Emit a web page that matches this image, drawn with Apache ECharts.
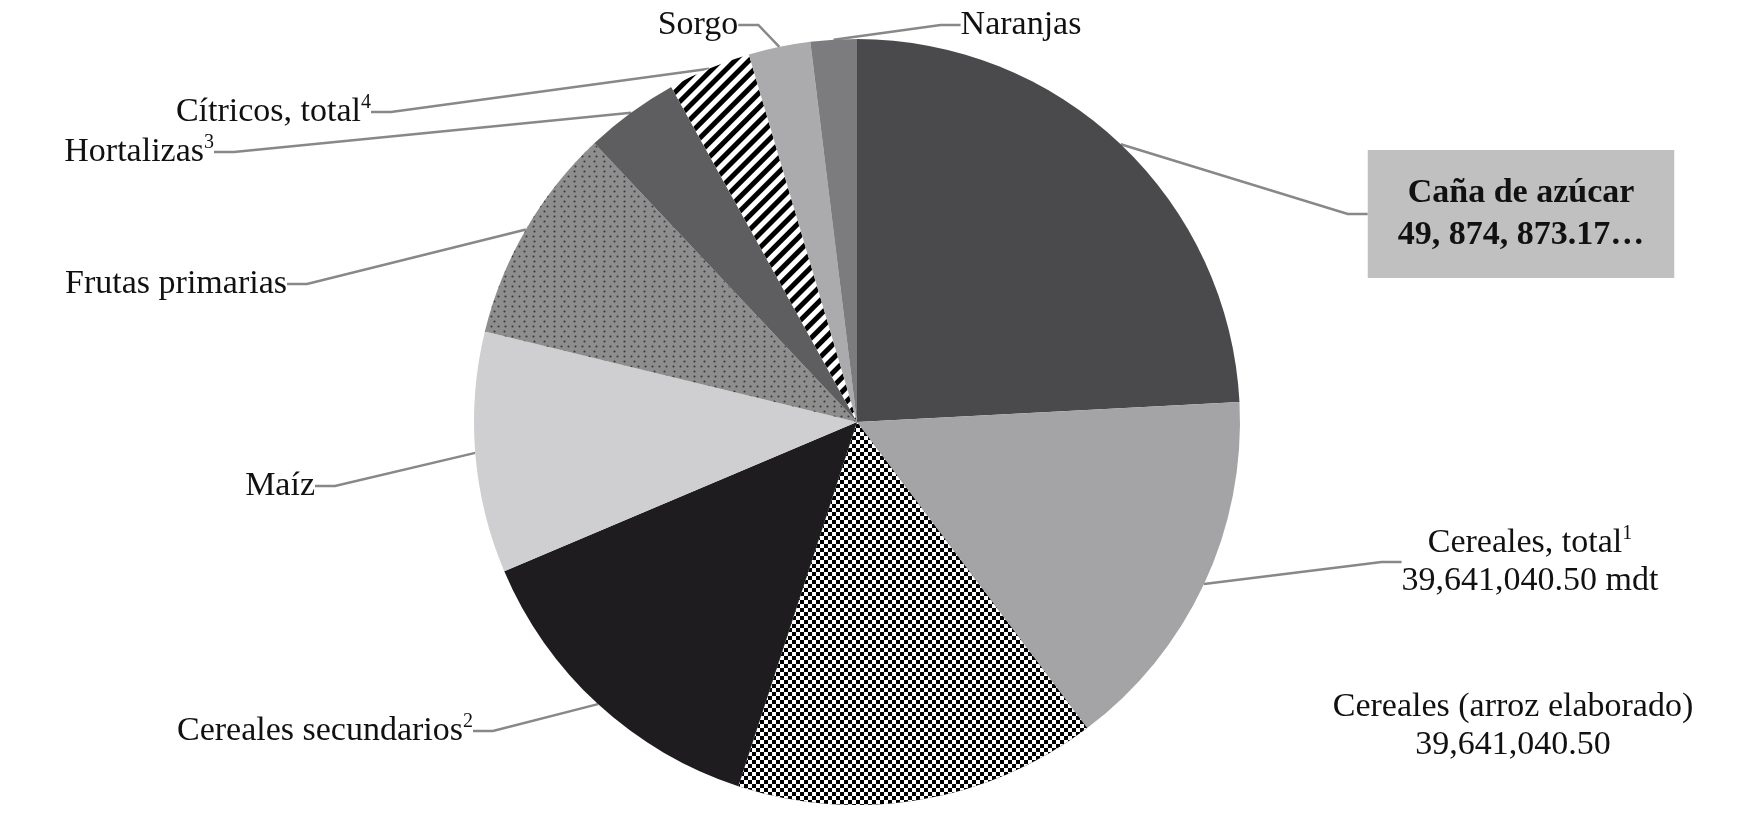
<!DOCTYPE html>
<html><head><meta charset="utf-8">
<script src="https://cdn.jsdelivr.net/npm/echarts@6/dist/echarts.min.js"></script>
<style>html,body{margin:0;background:#fff}#c{width:1764px;height:822px}</style>
</head><body><div id="c"></div>
<script>
const categories = ['Caña de azúcar','Cereales, total','Cereales (arroz elaborado)','Cereales secundarios','Maíz','Frutas primarias','Hortalizas','Cítricos, total','Sorgo','Naranjas'];
const labelTexts = ['{b|Caña de azúcar}\n{b|49, 874, 873.17…}','Cereales, total{s|1}\n39,641,040.50 mdt','Cereales (arroz elaborado)\n39,641,040.50','Cereales secundarios{s|2}','Maíz','Frutas primarias','Hortalizas{s|3}','Cítricos, total{s|4}','Sorgo','Naranjas'];
const values = [87, 56, 55, 49, 36.6, 33, 14.3, 12.6, 9.4, 7];
const colors = ['#4a494b','#a4a4a6','#000000','#1e1c1e','#cfcfd1','#8e8e8e','#5e5e60','#ffffff','#ababad','#7c7c7e'];
const labelPos = [[1521,214,'center'],[1530,562,'center'],[1513,726,'center'],[473,731,'right'],[315,486,'right'],[287,284,'right'],[214,152,'right'],[371,112,'right'],[698,25,'center'],[1021,25,'center']];
const decals = {
  2:{symbol:'rect',symbolSize:1,color:'#ffffff',dashArrayX:[[4,4],[0,4,4,0]],dashArrayY:[4,0]},
  5:{symbol:'circle',symbolSize:0.7,color:'#3a3a3a',dashArrayX:[[3,4],[0,3,3,4]],dashArrayY:[3,2]},
  7:{symbol:'rect',symbolSize:1,color:'#000000',dashArrayX:[1,0],dashArrayY:[5,5],rotation:-Math.PI/4}
};
const data = categories.map((n,i)=>({
  name:n, value:values[i],
  itemStyle:Object.assign({color:colors[i]}, decals[i]?{decal:decals[i]}:{}),
  label: i===0 ? {backgroundColor:'#c0c0c0',padding:[22,30],lineHeight:42} : {},
  labelLine: i===2 ? {show:false} : {}
}));
const chart = echarts.init(document.getElementById('c'));
chart.setOption({
  animation:false,
  series:[{
    type:'pie', center:[857,422], radius:383, startAngle:90, clockwise:true,
    data,
    label:{show:true, position:'outside', fontFamily:'Liberation Serif', fontSize:34, color:'#111', lineHeight:38,
      formatter:p=>labelTexts[p.dataIndex],
      rich:{b:{fontFamily:'Liberation Serif',fontSize:34,fontWeight:'bold',color:'#111',lineHeight:42},
            s:{fontFamily:'Liberation Serif',fontSize:20,verticalAlign:'top',padding:[0,0,14,0],color:'#111'}}},
    labelLine:{show:true,length:20,length2:20,lineStyle:{color:'#888',width:2.5}},
    labelLayout:p=>{const q=labelPos[p.dataIndex];return {x:q[0],y:q[1],align:q[2],verticalAlign:'middle'};}
  }]
});
</script></body></html>
